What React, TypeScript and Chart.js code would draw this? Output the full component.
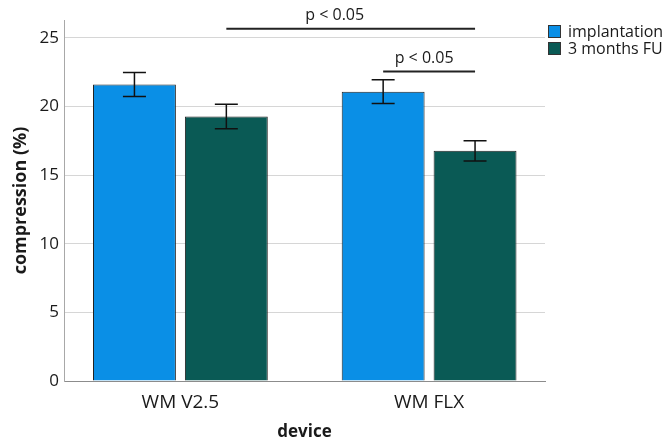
import React, { useEffect, useRef } from "react";
import { Chart, registerables } from "chart.js";

Chart.register(...registerables);

const categories = ["WM V2.5", "WM FLX"];
const seriesLabels = ["implantation", "3 months FU"];
const implantation = [21.6, 21.08];
const implantationErr = [0.87, 0.86];
const followUp = [19.27, 16.77];
const followUpErr = [0.9, 0.74];
const yTicks = [0, 5, 10, 15, 20, 25];
// significance brackets: from [dataset, index] to [dataset, index] at a y value
const sigFrom = [[1, 0], [0, 1]];
const sigTo = [[1, 1], [1, 1]];
const sigY = [25.66, 22.54];
const sigText = ["p < 0.05", "p < 0.05"];

const colors = ["#0a8fe6", "#0a5a55"];
const FONT = "'Open Sans', 'Noto Sans', sans-serif";
const TEXT = "#1a1a1a";

export default function App() {
  const ref = useRef<HTMLCanvasElement | null>(null);

  useEffect(() => {
    document.body.style.margin = "0";
    const canvas = ref.current;
    if (!canvas) return;
    const errs = [implantationErr, followUpErr];

    const errorBars = {
      id: "errorBars",
      afterDatasetsDraw(chart: any) {
        const ctx = chart.ctx;
        const y = chart.scales.y;
        ctx.save();
        ctx.strokeStyle = "#111";
        ctx.lineWidth = 1.5;
        chart.data.datasets.forEach((ds: any, di: number) => {
          const meta = chart.getDatasetMeta(di);
          meta.data.forEach((el: any, i: number) => {
            const v = ds.data[i].y;
            const e = errs[di][i];
            const top = y.getPixelForValue(v + e);
            const bot = y.getPixelForValue(v - e);
            const cap = 11.5;
            ctx.beginPath();
            ctx.moveTo(el.x, top);
            ctx.lineTo(el.x, bot);
            ctx.moveTo(el.x - cap, top);
            ctx.lineTo(el.x + cap, top);
            ctx.moveTo(el.x - cap, bot);
            ctx.lineTo(el.x + cap, bot);
            ctx.stroke();
          });
        });
        ctx.restore();
      },
    };

    const textShift = [-16, -5];
    const sigPlugin = {
      id: "sig",
      afterDatasetsDraw(chart: any) {
        const ctx = chart.ctx;
        const y = chart.scales.y;
        ctx.save();
        sigY.forEach((val, k) => {
          const a = chart.getDatasetMeta(sigFrom[k][0]).data[sigFrom[k][1]];
          const b = chart.getDatasetMeta(sigTo[k][0]).data[sigTo[k][1]];
          const py = y.getPixelForValue(val);
          ctx.strokeStyle = "#222";
          ctx.lineWidth = 2;
          ctx.beginPath();
          ctx.moveTo(a.x, py);
          ctx.lineTo(b.x, py);
          ctx.stroke();
          ctx.fillStyle = TEXT;
          ctx.font = `16px ${FONT}`;
          ctx.textAlign = "center";
          ctx.textBaseline = "alphabetic";
          ctx.fillText(sigText[k], (a.x + b.x) / 2 + textShift[k], py - 9);
        });
        ctx.restore();
      },
    };

    const legendPlugin = {
      id: "customLegend",
      afterDraw(chart: any) {
        const ctx = chart.ctx;
        const x0 = chart.chartArea.right + 3;
        ctx.save();
        chart.data.datasets.forEach((ds: any, i: number) => {
          const top = 25 + i * 17;
          ctx.fillStyle = ds.backgroundColor;
          ctx.fillRect(x0, top, 13, 13);
          ctx.strokeStyle = "#333";
          ctx.lineWidth = 1;
          ctx.strokeRect(x0 + 0.5, top + 0.5, 12, 12);
          ctx.fillStyle = TEXT;
          ctx.font = `16px ${FONT}`;
          ctx.textAlign = "left";
          ctx.textBaseline = "middle";
          ctx.fillText(ds.label, x0 + 20, top + 7);
        });
        ctx.restore();
      },
    };

    const chart = new Chart(canvas, {
      type: "bar",
      data: {
        datasets: [
          {
            label: seriesLabels[0],
            data: implantation.map((v, i) => ({ x: i, y: v })),
            backgroundColor: colors[0],
            borderColor: "#222",
            borderWidth: 1,
          },
          {
            label: seriesLabels[1],
            data: followUp.map((v, i) => ({ x: i, y: v })),
            backgroundColor: colors[1],
            borderColor: "#222",
            borderWidth: 1,
          },
        ],
      },
      options: {
        responsive: false,
        animation: false,
        categoryPercentage: 0.739,
        barPercentage: 0.902,
        layout: { padding: { left: 0, top: 20, right: 123, bottom: 0 } },
        plugins: {
          legend: { display: false },
          tooltip: { enabled: false },
        },
        scales: {
          x: {
            type: "linear",
            offset: false,
            bounds: "data",
            min: -0.468,
            max: 1.466,
            afterBuildTicks: (s: any) => {
              s.ticks = categories.map((_, i) => ({ value: i }));
            },
            afterFit: (s: any) => {
              s.height = 63;
            },
            grid: { display: false, drawTicks: false, offset: false },
            border: { display: true, color: "#8c8c8c", width: 1 },
            ticks: {
              autoSkip: false,
              maxRotation: 0,
              padding: 10,
              color: TEXT,
              font: { family: FONT, size: 19 },
              callback: (v: any) => categories[v] ?? "",
            },
            title: {
              display: true,
              text: "device",
              color: TEXT,
              font: { family: FONT, size: 17, weight: "bold" },
              padding: { top: 0, bottom: 2 },
            },
          },
          y: {
            type: "linear",
            min: 0,
            max: 26.3,
            afterBuildTicks: (s: any) => {
              s.ticks = yTicks.map((v) => ({ value: v }));
            },
            afterFit: (s: any) => {
              s.width = 64;
            },
            grid: { color: "#d6d6d6", lineWidth: 1, drawTicks: false },
            border: { display: true, color: "#a8a8a8", width: 1 },
            ticks: {
              padding: 5,
              color: TEXT,
              font: { family: FONT, size: 17 },
            },
            title: {
              display: true,
              text: "compression (%)",
              color: TEXT,
              font: { family: FONT, size: 18, weight: "bold" },
              padding: { top: 10, bottom: 0 },
            },
          },
        },
      },
      plugins: [errorBars, sigPlugin, legendPlugin],
    } as any);

    return () => chart.destroy();
  }, []);

  return (
    <div style={{ width: 668, height: 444 }}>
      <canvas ref={ref} width={668} height={444} style={{ display: "block" }} />
    </div>
  );
}
